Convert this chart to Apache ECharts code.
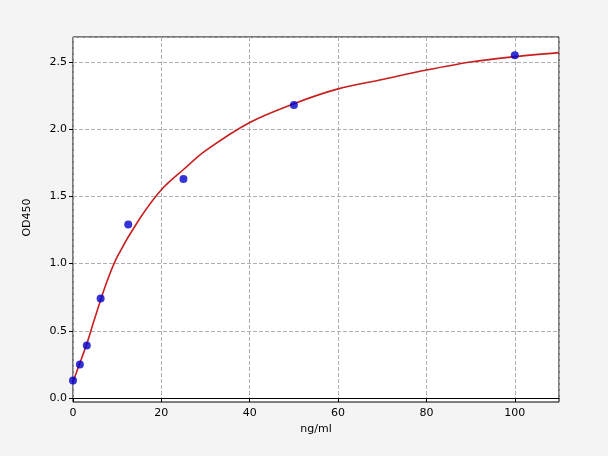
<!DOCTYPE html>
<html><head><meta charset="utf-8">
<script src="https://cdn.jsdelivr.net/npm/echarts@6/dist/echarts.min.js"></script>
<style>html,body{margin:0;background:#f4f4f4}#c{width:608px;height:456px}</style>
</head><body><div id="c"></div>
<script>
const pointsX=[0,1.56,3.12,6.25,12.5,25,50,100];
const pointsY=[0.13,0.25,0.39,0.74,1.29,1.63,2.18,2.55];
const curveX=[0,1,2,3,5,7.5,10,15,20,25,30,40,50,60,70,80,90,100,110];
const curveY=[0.12,0.21,0.30,0.39,0.60,0.85,1.05,1.33,1.55,1.70,1.84,2.05,2.19,2.30,2.37,2.44,2.50,2.54,2.57];
const xTicks=[0,20,40,60,80,100];
const yTicks=['0.0','0.5','1.0','1.5','2.0','2.5'];
const chart=echarts.init(document.getElementById('c'));
const ax={color:'#000',fontSize:11,fontFamily:'DejaVu Sans'};
chart.setOption({
 backgroundColor:'#f4f4f4',animation:false,
 graphic:[{type:'rect',shape:{x:73,y:37,width:486,height:365},style:{fill:'#fff',stroke:'#000',lineWidth:1},z:-10}],
 grid:{left:73,right:49,top:37,bottom:58},
 xAxis:{type:'value',min:0,max:110,interval:20,offset:4,name:'ng/ml',nameLocation:'middle',nameGap:22,nameTextStyle:ax,
  axisLine:{lineStyle:{color:'#000'}},axisTick:{lineStyle:{color:'#000'},length:4},
  axisLabel:{...ax,margin:6,showMaxLabel:false},splitLine:{lineStyle:{type:'dashed',color:'#b0b0b0'}}},
 yAxis:{type:'value',min:0,max:2.686,interval:0.5,name:'OD450',nameLocation:'middle',nameGap:40,nameTextStyle:ax,
  axisLine:{show:false},axisTick:{lineStyle:{color:'#000'},length:4},
  axisLabel:{...ax,margin:6,showMaxLabel:false,formatter:v=>yTicks[Math.round(v/0.5)]||''},
  splitLine:{lineStyle:{type:'dashed',color:'#b0b0b0'}}},
 series:[
  {type:'line',smooth:0.3,symbol:'none',clip:false,data:curveX.map((x,i)=>[x,curveY[i]]),lineStyle:{color:'#c81e1e',width:1.6},z:2},
  {type:'scatter',symbolSize:8,clip:false,data:pointsX.map((x,i)=>[x,pointsY[i]]),itemStyle:{color:'#0000cc'},z:3}
 ]
});
</script></body></html>
